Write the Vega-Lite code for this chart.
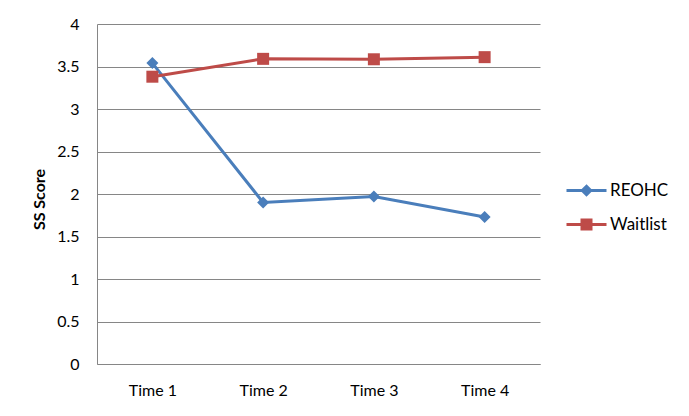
{
  "$schema": "https://vega.github.io/schema/vega-lite/v6.json",
  "width": 443,
  "height": 340,
  "autosize": {"type": "none"},
  "padding": {"left": 97, "top": 24, "right": 149, "bottom": 52},
  "background": "white",
  "config": {"view": {"stroke": null}, "font": "Lato"},
  "data": {
    "values": [
      {"time": "Time 1", "group": "REOHC", "score": 3.54},
      {"time": "Time 2", "group": "REOHC", "score": 1.9},
      {"time": "Time 3", "group": "REOHC", "score": 1.97},
      {"time": "Time 4", "group": "REOHC", "score": 1.73},
      {"time": "Time 1", "group": "Waitlist", "score": 3.38},
      {"time": "Time 2", "group": "Waitlist", "score": 3.59},
      {"time": "Time 3", "group": "Waitlist", "score": 3.585},
      {"time": "Time 4", "group": "Waitlist", "score": 3.61}
    ]
  },
  "encoding": {
    "x": {
      "field": "time",
      "type": "nominal",
      "sort": null,
      "scale": {"type": "point", "padding": 0.5},
      "axis": {
        "title": null,
        "labelAngle": 0,
        "labelFontSize": 16,
        "labelPadding": 18,
        "labelColor": "#000",
        "ticks": false,
        "grid": false,
        "domainColor": "#868686"
      }
    },
    "y": {
      "field": "score",
      "type": "quantitative",
      "scale": {"domain": [0, 4]},
      "axis": {
        "title": "SS Score",
        "titleFontSize": 16,
        "titleFontWeight": "bold",
        "titleColor": "#000",
        "titleX": -58,
        "titleY": 175,
        "titleAngle": -90,
        "titleAlign": "center",
        "titleBaseline": "middle",
        "values": [0, 0.5, 1, 1.5, 2, 2.5, 3, 3.5, 4],
        "format": "~g",
        "labelFontSize": 16,
        "labelColor": "#000",
        "labelPadding": 18,
        "ticks": false,
        "domainColor": "#868686",
        "gridColor": "#868686"
      }
    },
    "color": {
      "field": "group",
      "type": "nominal",
      "scale": {"domain": ["REOHC", "Waitlist"], "range": ["#4A7EBB", "#BE4B48"]},
      "legend": {
        "orient": "none",
        "legendX": 478,
        "legendY": 155,
        "title": null,
        "padding": 0,
        "symbolSize": 400,
        "labelOffset": 12,
        "rowPadding": 12,
        "labelFontSize": 17,
        "labelColor": "#000",
        "symbolStrokeWidth": 3,
        "symbolOpacity": 1,
        "symbolType": {"expr": "datum.value === 'REOHC' ? 'M-2,0H2M0,-0.42L0.42,0L0,0.42L-0.42,0Z' : 'M-2,0H2M-0.45,-0.45H0.45V0.45H-0.45Z'"},
        "symbolFillColor": {"expr": "datum.value === 'REOHC' ? '#4A7EBB' : '#BE4B48'"},
        "symbolStrokeColor": {"expr": "datum.value === 'REOHC' ? '#4A7EBB' : '#BE4B48'"}
      }
    }
  },
  "layer": [
    {"mark": {"type": "line", "strokeWidth": 3}},
    {
      "transform": [{"filter": "datum.group === 'REOHC'"}],
      "mark": {"type": "point", "filled": true, "opacity": 1, "size": 144, "shape": "diamond"}
    },
    {
      "transform": [{"filter": "datum.group === 'Waitlist'"}],
      "mark": {"type": "point", "filled": true, "opacity": 1, "size": 144, "shape": "square"}
    }
  ]
}
